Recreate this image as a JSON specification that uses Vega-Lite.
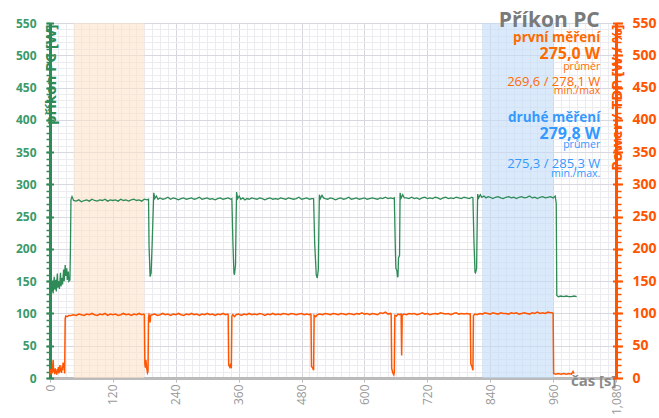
{
  "$schema": "https://vega.github.io/schema/vega-lite/v6.json",
  "width": 566,
  "height": 355,
  "autosize": {"type": "none"},
  "padding": {"left": 50, "top": 23, "right": 43, "bottom": 40},
  "background": "white",
  "config": {"view": {"stroke": null}, "font": "Open Sans"},
  "datasets": {
    "green": [
      {"t":0,"v":138},{"t":2,"v":152},{"t":3,"v":133},{"t":5,"v":150},{"t":6,"v":131},{"t":8,"v":157},{"t":9,"v":137},{"t":11,"v":152},{"t":12,"v":134},{"t":14,"v":162},{"t":15,"v":140},{"t":17,"v":150},{"t":18,"v":138},{"t":20,"v":163},{"t":21,"v":142},{"t":23,"v":155},{"t":24,"v":145},{"t":26,"v":168},{"t":27,"v":150},{"t":29,"v":175},{"t":30,"v":158},{"t":32,"v":170},{"t":33,"v":152},{"t":35,"v":165},{"t":36,"v":150},{"t":38,"v":152},{"t":39,"v":200},{"t":40,"v":276},{"t":42,"v":281},
      {"t":45,"v":275},{"t":50,"v":274},{"t":55,"v":276},{"t":60,"v":273},{"t":65,"v":275},{"t":70,"v":276},{"t":75,"v":274},{"t":80,"v":277},{"t":85,"v":275},{"t":90,"v":274},{"t":95,"v":276},{"t":100,"v":275},{"t":105,"v":277},{"t":110,"v":274},{"t":115,"v":276},{"t":120,"v":275},{"t":125,"v":276},{"t":130,"v":274},{"t":135,"v":277},{"t":140,"v":275},{"t":145,"v":276},{"t":150,"v":274},{"t":155,"v":276},{"t":160,"v":277},{"t":165,"v":275},{"t":170,"v":276},{"t":175,"v":274},{"t":180,"v":277},{"t":185,"v":276},
      {"t":188,"v":277},{"t":189,"v":205},{"t":191,"v":157},{"t":193,"v":163},{"t":195,"v":210},{"t":197,"v":262},{"t":198,"v":287},{"t":200,"v":278},{"t":203,"v":282},{"t":206,"v":277},
      {"t":210,"v":279},{"t":215,"v":277},{"t":220,"v":278},{"t":225,"v":280},{"t":230,"v":277},{"t":235,"v":279},{"t":240,"v":278},{"t":245,"v":276},{"t":250,"v":278},{"t":255,"v":279},{"t":260,"v":277},{"t":265,"v":278},{"t":270,"v":279},{"t":275,"v":277},{"t":280,"v":278},{"t":285,"v":280},{"t":290,"v":277},{"t":295,"v":278},{"t":300,"v":279},{"t":305,"v":277},{"t":310,"v":278},{"t":315,"v":276},{"t":320,"v":278},{"t":325,"v":279},{"t":330,"v":277},{"t":335,"v":278},{"t":340,"v":279},{"t":345,"v":277},
      {"t":347,"v":278},{"t":349,"v":210},{"t":351,"v":162},{"t":352,"v":160},{"t":354,"v":175},{"t":355,"v":240},{"t":356,"v":288},{"t":358,"v":278},{"t":361,"v":282},{"t":364,"v":277},
      {"t":368,"v":279},{"t":372,"v":276},{"t":376,"v":278},{"t":380,"v":277},{"t":385,"v":279},{"t":390,"v":278},{"t":395,"v":277},{"t":400,"v":279},{"t":405,"v":278},{"t":410,"v":276},{"t":415,"v":278},{"t":420,"v":279},{"t":425,"v":277},{"t":430,"v":278},{"t":435,"v":277},{"t":440,"v":279},{"t":445,"v":278},{"t":450,"v":277},{"t":455,"v":279},{"t":460,"v":278},{"t":465,"v":277},{"t":470,"v":278},{"t":475,"v":280},{"t":480,"v":277},{"t":485,"v":278},{"t":490,"v":279},{"t":495,"v":277},{"t":500,"v":278},
      {"t":503,"v":278},{"t":505,"v":210},{"t":508,"v":160},{"t":510,"v":155},{"t":512,"v":168},{"t":513,"v":230},{"t":514,"v":284},{"t":516,"v":278},{"t":519,"v":283},{"t":522,"v":279},
      {"t":525,"v":278},{"t":530,"v":277},{"t":535,"v":279},{"t":540,"v":278},{"t":545,"v":276},{"t":550,"v":278},{"t":555,"v":279},{"t":560,"v":277},{"t":565,"v":278},{"t":570,"v":280},{"t":575,"v":277},{"t":580,"v":278},{"t":585,"v":279},{"t":590,"v":277},{"t":595,"v":278},{"t":600,"v":279},{"t":605,"v":277},{"t":610,"v":278},{"t":615,"v":279},{"t":620,"v":278},{"t":625,"v":277},{"t":630,"v":279},{"t":635,"v":278},{"t":640,"v":280},{"t":645,"v":278},{"t":650,"v":279},{"t":655,"v":278},
      {"t":657,"v":279},{"t":659,"v":200},{"t":660,"v":170},{"t":662,"v":166},{"t":663,"v":156},{"t":664,"v":158},{"t":665,"v":186},{"t":667,"v":190},{"t":668,"v":287},{"t":670,"v":279},{"t":673,"v":284},{"t":676,"v":279},
      {"t":680,"v":279},{"t":685,"v":278},{"t":690,"v":280},{"t":695,"v":278},{"t":700,"v":279},{"t":705,"v":277},{"t":710,"v":279},{"t":715,"v":280},{"t":720,"v":278},{"t":725,"v":279},{"t":730,"v":278},{"t":735,"v":280},{"t":740,"v":279},{"t":745,"v":277},{"t":750,"v":279},{"t":755,"v":280},{"t":760,"v":278},{"t":765,"v":279},{"t":770,"v":278},{"t":775,"v":280},{"t":780,"v":279},{"t":785,"v":278},{"t":790,"v":280},{"t":795,"v":279},{"t":800,"v":278},{"t":805,"v":280},
      {"t":807,"v":279},{"t":809,"v":210},{"t":811,"v":164},{"t":812,"v":163},{"t":814,"v":170},{"t":815,"v":230},{"t":816,"v":285},{"t":818,"v":279},{"t":821,"v":284},{"t":824,"v":280},
      {"t":828,"v":282},{"t":832,"v":279},{"t":836,"v":281},{"t":840,"v":280},{"t":845,"v":278},{"t":850,"v":280},{"t":855,"v":281},{"t":860,"v":279},{"t":865,"v":278},{"t":870,"v":280},{"t":875,"v":281},{"t":880,"v":279},{"t":885,"v":280},{"t":890,"v":278},{"t":895,"v":280},{"t":900,"v":281},{"t":905,"v":279},{"t":910,"v":280},{"t":915,"v":282},{"t":920,"v":279},{"t":925,"v":280},{"t":930,"v":278},{"t":935,"v":280},{"t":940,"v":281},{"t":945,"v":279},{"t":950,"v":280},{"t":955,"v":281},{"t":960,"v":279},{"t":964,"v":282},
      {"t":966,"v":270},{"t":967,"v":128},{"t":970,"v":126},{"t":975,"v":127},{"t":980,"v":126},{"t":985,"v":127},{"t":990,"v":126},{"t":995,"v":126},{"t":1000,"v":127},{"t":1005,"v":126}
    ],
    "orange": [
      {"t":0,"v":8},{"t":1,"v":14},{"t":2,"v":5},{"t":3,"v":12},{"t":4,"v":7},{"t":5,"v":18},{"t":6,"v":28},{"t":7,"v":9},{"t":8,"v":13},{"t":9,"v":6},{"t":10,"v":15},{"t":11,"v":8},{"t":12,"v":11},{"t":13,"v":5},{"t":14,"v":14},{"t":15,"v":9},{"t":16,"v":17},{"t":17,"v":7},{"t":18,"v":12},{"t":19,"v":20},{"t":20,"v":10},{"t":21,"v":15},{"t":22,"v":8},{"t":23,"v":18},{"t":24,"v":12},{"t":25,"v":24},{"t":26,"v":16},{"t":27,"v":23},{"t":28,"v":7},{"t":29,"v":92},{"t":30,"v":96},{"t":33,"v":95},{"t":36,"v":97},
      {"t":40,"v":97},{"t":45,"v":98},{"t":50,"v":97},{"t":55,"v":99},{"t":60,"v":98},{"t":65,"v":97},{"t":70,"v":99},{"t":75,"v":98},{"t":80,"v":100},{"t":85,"v":98},{"t":90,"v":97},{"t":95,"v":99},{"t":100,"v":98},{"t":105,"v":100},{"t":110,"v":97},{"t":115,"v":99},{"t":120,"v":98},{"t":125,"v":99},{"t":130,"v":97},{"t":135,"v":98},{"t":140,"v":100},{"t":145,"v":98},{"t":150,"v":99},{"t":155,"v":97},{"t":160,"v":99},{"t":165,"v":98},{"t":170,"v":100},{"t":175,"v":98},{"t":179,"v":99},
      {"t":180,"v":98},{"t":181,"v":22},{"t":182,"v":16},{"t":183,"v":28},{"t":184,"v":18},{"t":186,"v":8},{"t":187,"v":10},{"t":188,"v":94},{"t":189,"v":98},{"t":190,"v":96},{"t":191,"v":86},{"t":192,"v":97},{"t":195,"v":98},
      {"t":200,"v":99},{"t":205,"v":97},{"t":210,"v":98},{"t":215,"v":100},{"t":220,"v":98},{"t":225,"v":99},{"t":230,"v":97},{"t":235,"v":99},{"t":240,"v":98},{"t":245,"v":100},{"t":250,"v":98},{"t":255,"v":97},{"t":260,"v":99},{"t":265,"v":98},{"t":270,"v":100},{"t":275,"v":98},{"t":280,"v":99},{"t":285,"v":97},{"t":290,"v":99},{"t":295,"v":98},{"t":300,"v":100},{"t":305,"v":98},{"t":310,"v":99},{"t":315,"v":97},{"t":320,"v":99},{"t":325,"v":98},{"t":330,"v":100},{"t":335,"v":98},{"t":339,"v":99},
      {"t":340,"v":98},{"t":341,"v":20},{"t":343,"v":17},{"t":345,"v":22},{"t":346,"v":15},{"t":347,"v":96},{"t":349,"v":98},{"t":352,"v":95},
      {"t":355,"v":98},{"t":360,"v":99},{"t":365,"v":97},{"t":370,"v":99},{"t":375,"v":98},{"t":380,"v":100},{"t":385,"v":98},{"t":390,"v":99},{"t":395,"v":98},{"t":400,"v":100},{"t":405,"v":99},{"t":410,"v":97},{"t":415,"v":99},{"t":420,"v":98},{"t":425,"v":100},{"t":430,"v":98},{"t":435,"v":99},{"t":440,"v":98},{"t":445,"v":100},{"t":450,"v":99},{"t":455,"v":98},{"t":460,"v":100},{"t":465,"v":99},{"t":470,"v":98},{"t":475,"v":99},{"t":480,"v":100},{"t":485,"v":98},{"t":490,"v":99},{"t":495,"v":98},{"t":497,"v":99},
      {"t":498,"v":98},{"t":499,"v":18},{"t":501,"v":16},{"t":503,"v":12},{"t":504,"v":97},{"t":507,"v":95},{"t":510,"v":98},
      {"t":515,"v":99},{"t":520,"v":98},{"t":525,"v":100},{"t":530,"v":99},{"t":535,"v":98},{"t":540,"v":100},{"t":545,"v":99},{"t":550,"v":98},{"t":555,"v":100},{"t":560,"v":99},{"t":565,"v":98},{"t":570,"v":100},{"t":575,"v":99},{"t":580,"v":98},{"t":585,"v":100},{"t":590,"v":99},{"t":595,"v":101},{"t":600,"v":99},{"t":605,"v":100},{"t":610,"v":98},{"t":615,"v":100},{"t":620,"v":99},{"t":625,"v":98},{"t":630,"v":101},{"t":635,"v":100},{"t":640,"v":102},{"t":645,"v":99},{"t":650,"v":100},
      {"t":651,"v":99},{"t":652,"v":15},{"t":654,"v":8},{"t":656,"v":5},{"t":657,"v":9},{"t":658,"v":97},{"t":661,"v":96},{"t":664,"v":99},{"t":667,"v":98},{"t":670,"v":99},{"t":671,"v":35},{"t":672,"v":97},{"t":675,"v":99},
      {"t":680,"v":98},{"t":685,"v":100},{"t":690,"v":99},{"t":695,"v":100},{"t":700,"v":98},{"t":705,"v":99},{"t":710,"v":101},{"t":715,"v":99},{"t":720,"v":100},{"t":725,"v":98},{"t":730,"v":99},{"t":735,"v":100},{"t":740,"v":99},{"t":745,"v":101},{"t":750,"v":100},{"t":755,"v":99},{"t":760,"v":100},{"t":765,"v":98},{"t":770,"v":100},{"t":775,"v":101},{"t":780,"v":99},{"t":785,"v":100},{"t":790,"v":99},{"t":795,"v":100},{"t":800,"v":99},
      {"t":802,"v":99},{"t":803,"v":22},{"t":805,"v":18},{"t":807,"v":12},{"t":808,"v":97},{"t":811,"v":99},{"t":815,"v":98},
      {"t":820,"v":100},{"t":825,"v":99},{"t":830,"v":101},{"t":835,"v":100},{"t":840,"v":99},{"t":845,"v":101},{"t":850,"v":100},{"t":855,"v":99},{"t":860,"v":101},{"t":865,"v":100},{"t":870,"v":100},{"t":875,"v":99},{"t":880,"v":101},{"t":885,"v":100},{"t":890,"v":101},{"t":895,"v":99},{"t":900,"v":100},{"t":905,"v":101},{"t":910,"v":100},{"t":915,"v":99},{"t":920,"v":101},{"t":925,"v":100},{"t":930,"v":102},{"t":935,"v":100},{"t":940,"v":101},{"t":945,"v":100},{"t":950,"v":102},{"t":955,"v":101},{"t":958,"v":101},
      {"t":960,"v":100},{"t":961,"v":7},{"t":965,"v":6},{"t":970,"v":7},{"t":975,"v":6},{"t":980,"v":7},{"t":985,"v":6},{"t":990,"v":7},{"t":995,"v":6},{"t":998,"v":10},{"t":1000,"v":7}
    ],
    "notes": [
      {"text":"Příkon PC","kind":"nadpis","m":"nadpis","t":1049,"v":544},
      {"text":"první měření","kind":"hlavicka","m":"první","t":1050,"v":521},
      {"text":"275,0 W","kind":"hodnota","m":"první","t":1050,"v":495},
      {"text":"průměr","kind":"popis","m":"první","t":1050,"v":477},
      {"text":"269,6 / 278,1 W","kind":"rozsah","m":"první","t":1050,"v":453},
      {"text":"min./max","kind":"popis","m":"první","t":1050,"v":440},
      {"text":"druhé měření","kind":"hlavicka","m":"druhé","t":1050,"v":397},
      {"text":"279,8 W","kind":"hodnota","m":"druhé","t":1050,"v":370},
      {"text":"průmer","kind":"popis","m":"druhé","t":1050,"v":357},
      {"text":"275,3 / 285,3 W","kind":"rozsah","m":"druhé","t":1050,"v":325},
      {"text":"min./max.","kind":"popis","m":"druhé","t":1050,"v":312}
    ],
    "carrier": [{"t":0,"v":0}]
  },
  "layer": [
    {
      "data": {"values": [{"a":45,"b":180}]},
      "mark": {"type":"rect","color":"#fce3cb","opacity":0.6},
      "encoding": {
        "x": {"field":"a","type":"quantitative","scale":{"domain":[0,1080],"nice":false,"zero":false},"axis":null},
        "x2": {"field":"b"}
      }
    },
    {
      "data": {"values": [{"a":825,"b":960}]},
      "mark": {"type":"rect","color":"#c3dcf8","opacity":0.6},
      "encoding": {
        "x": {"field":"a","type":"quantitative","axis":null},
        "x2": {"field":"b"}
      }
    },
    {
      "data": {"name":"carrier"},
      "mark": {"type":"point","opacity":0},
      "encoding": {
        "x": {"field":"t","type":"quantitative","axis":{"orient":"bottom","values":[0,15,30,45,60,75,90,105,120,135,150,165,180,195,210,225,240,255,270,285,300,315,330,345,360,375,390,405,420,435,450,465,480,495,510,525,540,555,570,585,600,615,630,645,660,675,690,705,720,735,750,765,780,795,810,825,840,855,870,885,900,915,930,945,960,975,990,1005,1020,1035,1050,1065,1080],"grid":true,"gridColor":"#ebebf0","labels":false,"ticks":false,"domain":false,"title":null}},
        "y": {"field":"v","type":"quantitative","scale":{"domain":[0,550],"nice":false,"zero":true},"axis":{"orient":"left","values":[0,10,20,30,40,50,60,70,80,90,100,110,120,130,140,150,160,170,180,190,200,210,220,230,240,250,260,270,280,290,300,310,320,330,340,350,360,370,380,390,400,410,420,430,440,450,460,470,480,490,500,510,520,530,540,550],"grid":true,"gridColor":"#ebebf0","labels":false,"tickSize":4,"tickColor":"#2e8b57","tickWidth":1.5,"domain":false,"title":null}}
      }
    },
    {
      "data": {"name":"carrier"},
      "mark": {"type":"point","opacity":0},
      "encoding": {
        "x": {"field":"t","type":"quantitative","axis":null},
        "y": {"field":"v","type":"quantitative","axis":{"orient":"left","offset":-3.5,"values":[0,50,100,150,200,250,300,350,400,450,500,550],"grid":false,"labels":false,"tickSize":7.5,"tickColor":"#2e8b57","tickWidth":2,"domain":false,"title":null}}
      }
    },
    {
      "data": {"name":"carrier"},
      "mark": {"type":"point","opacity":0},
      "encoding": {
        "x": {"field":"t","type":"quantitative","axis":null},
        "y": {"field":"v","type":"quantitative","axis":{"orient":"right","values":[0,10,20,30,40,50,60,70,80,90,100,110,120,130,140,150,160,170,180,190,200,210,220,230,240,250,260,270,280,290,300,310,320,330,340,350,360,370,380,390,400,410,420,430,440,450,460,470,480,490,500,510,520,530,540,550],"grid":false,"labels":false,"tickSize":5,"tickColor":"#ff5500","tickWidth":1.5,"domain":false,"title":null}}
      }
    },
    {
      "data": {"name":"carrier"},
      "mark": {"type":"point","opacity":0},
      "encoding": {
        "x": {"field":"t","type":"quantitative","axis":null},
        "y": {"field":"v","type":"quantitative","axis":{"orient":"right","offset":-3.5,"values":[0,50,100,150,200,250,300,350,400,450,500,550],"grid":false,"labels":false,"tickSize":10,"tickColor":"#ff5500","tickWidth":2,"domain":false,"title":null}}
      }
    },
    {
      "data": {"name":"green"},
      "mark": {"type":"line","color":"#2e8b57","strokeWidth":1.3},
      "encoding": {
        "x": {"field":"t","type":"quantitative","scale":{"domain":[0,1080],"nice":false,"zero":false},
          "axis":{"orient":"bottom","values":[0,120,240,360,480,600,720,840,960,1080],"grid":true,"gridColor":"#d6d6de","domainColor":"#bbbbbb","domainWidth":3,"tickSize":4,"tickColor":"#bbbbbb","labelAngle":270,"labelColor":"#999999","labelFontSize":12,"labelPadding":2,
            "title":"čas [s]","titleColor":"#8a8a8a","titleFontSize":15,"titleFontWeight":"bold","titleX":566,"titleY":2,"titleAlign":"right","titleBaseline":"middle","titleAngle":0}},
        "y": {"field":"v","type":"quantitative","scale":{"domain":[0,550],"nice":false},
          "axis":{"orient":"left","values":[0,50,100,150,200,250,300,350,400,450,500,550],"grid":true,"gridColor":"#d8d8e0","domainColor":"#2e8b57","domainWidth":3,"ticks":false,"labelColor":"#3a9a6a","labelFontSize":12,"labelFontWeight":"bold","labelPadding":14,
            "title":"příkon PC [W]","titleColor":"#2e8b57","titleFontSize":15,"titleFontWeight":"bold","titleAngle":270,"titleAlign":"right","titleBaseline":"middle","titleX":0,"titleY":1}}
      }
    },
    {
      "data": {"name":"orange"},
      "mark": {"type":"line","color":"#ff5500","strokeWidth":1.5},
      "encoding": {
        "x": {"field":"t","type":"quantitative","axis":null},
        "y": {"field":"v","type":"quantitative",
          "axis":{"orient":"right","values":[0,50,100,150,200,250,300,350,400,450,500,550],"grid":false,"domainColor":"#ff5500","domainWidth":3,"ticks":false,"labelColor":"#ff5500","labelFontSize":14,"labelFontWeight":"bold","labelPadding":16,
            "title":"Power / TDP [W / %]","titleColor":"#ff5500","titleFontSize":15,"titleFontWeight":"bold","titleAngle":270,"titleAlign":"right","titleBaseline":"middle","titleX":0,"titleY":1}}
      }
    },
    {
      "data": {"name":"notes"},
      "transform": [{"filter":"datum.kind === 'nadpis'"}],
      "mark": {"type":"text","align":"right","baseline":"alphabetic","fontSize":21,"fontWeight":"bold"},
      "encoding": {
        "x": {"field":"t","type":"quantitative","axis":null},
        "y": {"field":"v","type":"quantitative","axis":null},
        "text": {"field":"text"},
        "color": {"field":"m","type":"nominal","scale":{"domain":["nadpis","první","druhé"],"range":["#7a7a7a","#ff6a00","#3399ff"]},"legend":null}
      }
    },
    {
      "data": {"name":"notes"},
      "transform": [{"filter":"datum.kind === 'hlavicka'"}],
      "mark": {"type":"text","align":"right","baseline":"alphabetic","fontSize":13.5,"fontWeight":"bold"},
      "encoding": {
        "x": {"field":"t","type":"quantitative","axis":null},
        "y": {"field":"v","type":"quantitative","axis":null},
        "text": {"field":"text"},
        "color": {"field":"m","type":"nominal","legend":null}
      }
    },
    {
      "data": {"name":"notes"},
      "transform": [{"filter":"datum.kind === 'hodnota'"}],
      "mark": {"type":"text","align":"right","baseline":"alphabetic","fontSize":16,"fontWeight":"bold"},
      "encoding": {
        "x": {"field":"t","type":"quantitative","axis":null},
        "y": {"field":"v","type":"quantitative","axis":null},
        "text": {"field":"text"},
        "color": {"field":"m","type":"nominal","legend":null}
      }
    },
    {
      "data": {"name":"notes"},
      "transform": [{"filter":"datum.kind === 'popis'"}],
      "mark": {"type":"text","align":"right","baseline":"alphabetic","fontSize":10.5},
      "encoding": {
        "x": {"field":"t","type":"quantitative","axis":null},
        "y": {"field":"v","type":"quantitative","axis":null},
        "text": {"field":"text"},
        "color": {"field":"m","type":"nominal","legend":null}
      }
    },
    {
      "data": {"name":"notes"},
      "transform": [{"filter":"datum.kind === 'rozsah'"}],
      "mark": {"type":"text","align":"right","baseline":"alphabetic","fontSize":13},
      "encoding": {
        "x": {"field":"t","type":"quantitative","axis":null},
        "y": {"field":"v","type":"quantitative","axis":null},
        "text": {"field":"text"},
        "color": {"field":"m","type":"nominal","legend":null}
      }
    }
  ],
  "resolve": {"axis": {"x":"independent","y":"independent"}}
}
